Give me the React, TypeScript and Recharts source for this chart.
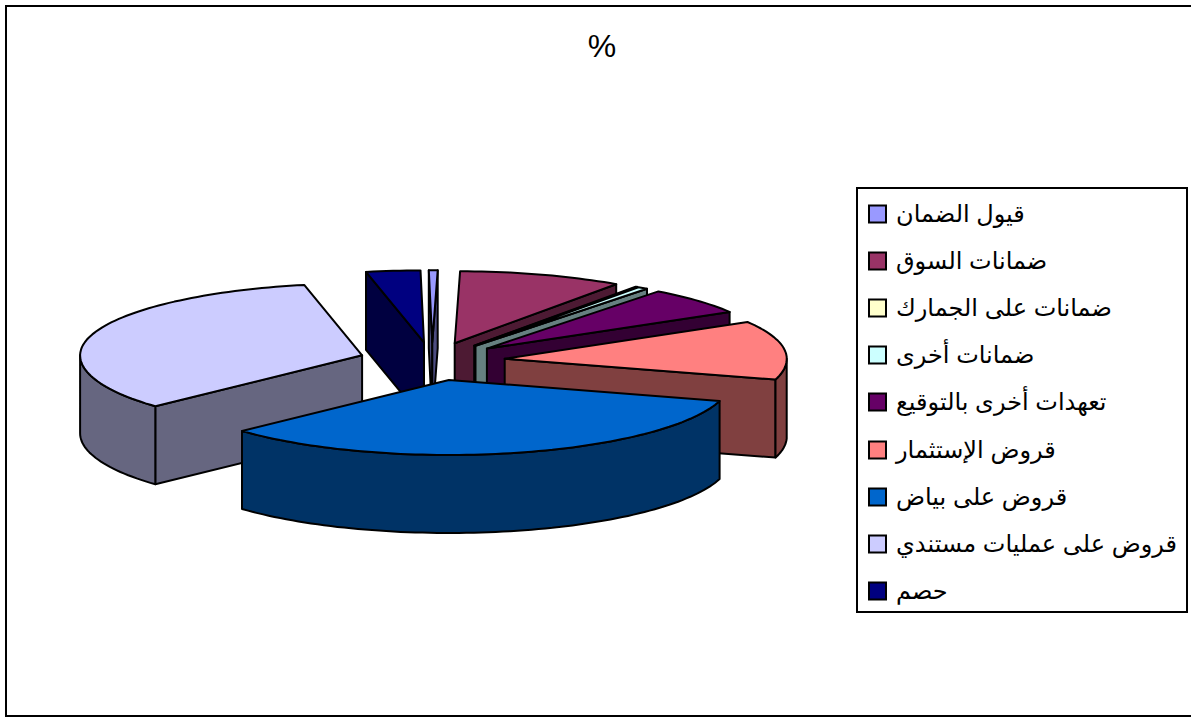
import React from 'react';
import { PieChart, Pie } from 'recharts';

// Slice names, in clockwise order from twelve o'clock.
const categories = [
  'قيول الضمان',
  'ضمانات السوق',
  'ضمانات على الجمارك',
  'ضمانات أخرى',
  'تعهدات أخرى بالتوقيع',
  'قروض الإستثمار',
  'قروض على بياض',
  'قروض على عمليات مستندي',
  'حصم',
];
const shares = [0.5, 9.4, 0.1, 0.6, 6.1, 13, 33.6, 33.6, 3.1];
const topColors = ['#9999FF', '#993366', '#FFFFCC', '#CCFFFF', '#660066', '#FF8080', '#0066CC', '#CCCCFF', '#000080'];
const sideColors = ['#4C4C80', '#4D1A33', '#808066', '#668080', '#330033', '#804040', '#003366', '#666680', '#000040'];
// Back-to-front painting sequence for the exploded wedges.
const paintOrder = [8, 0, 1, 2, 3, 4, 5, 7, 6];

const rows = categories.map((name, i) => ({ name, value: shares[i], fill: topColors[i], side: sideColors[i] }));

// The far half of the ellipse is a little flatter than the near half, as in a viewed-from-above pie.
const SQUASH_NEAR = 75 / 282;
const SQUASH_FAR = 72 / 282;
const DEPTH = 78;
const EXPLODE = 0.26;

const rad = (d: number) => (d * Math.PI) / 180;
const lift = (t: number) => {
  const c = Math.cos(rad(t));
  return c > 0 ? -c * SQUASH_FAR : -c * SQUASH_NEAR;
};

function Wedge(props: any) {
  const { cx, cy, outerRadius: r, startAngle, endAngle, fill, side } = props;
  // Recharts angles run counter-clockwise from three o'clock; t runs clockwise from the top.
  const t0 = 90 - startAngle;
  const t1 = 90 - endAngle;
  const mid = (t0 + t1) / 2;
  const ox = cx + EXPLODE * r * Math.sin(rad(mid));
  const oy = cy + EXPLODE * r * lift(mid);
  const at = (t: number, dz = 0): [number, number] => [
    ox + r * Math.sin(rad(t)),
    oy + r * lift(t) + dz,
  ];
  const arc = (a: number, b: number, dz = 0) => {
    const pts: [number, number][] = [];
    const n = Math.max(2, Math.ceil(Math.abs(b - a) / 1.5));
    for (let i = 0; i <= n; i++) pts.push(at(a + ((b - a) * i) / n, dz));
    return pts;
  };
  const path = (pts: [number, number][]) =>
    pts.map((p, i) => `${i ? 'L' : 'M'}${p[0].toFixed(1)},${p[1].toFixed(1)}`).join(' ') + ' Z';
  const apex: [number, number] = [ox, oy];
  const apexLow: [number, number] = [ox, oy + DEPTH];
  const common = { stroke: '#000', strokeWidth: 2, strokeLinejoin: 'round' as const };

  const faces: React.ReactNode[] = [];
  if (Math.sin(rad(t0)) < 0) {
    faces.push(<path key="s" d={path([apex, at(t0), at(t0, DEPTH), apexLow])} fill={side} {...common} />);
  }
  if (Math.sin(rad(t1)) > 0) {
    faces.push(<path key="e" d={path([apex, at(t1), at(t1, DEPTH), apexLow])} fill={side} {...common} />);
  }
  // Rim: only the stretch facing the viewer, i.e. between 90 and 270 degrees.
  const a = Math.max(t0, 90);
  const b = Math.min(t1, 270);
  if (b > a) {
    faces.push(<path key="r" d={path([...arc(a, b), ...arc(b, a, DEPTH)])} fill={side} {...common} />);
  }
  return (
    <g>
      {faces}
      <path d={path([apex, ...arc(t0, t1)])} fill={fill} {...common} />
    </g>
  );
}

const legendRowY = [214, 261, 308, 355, 402, 450, 497, 544, 591];

export default function App() {
  return (
    <div style={{ position: 'absolute', left: 0, top: 0, width: 1191, height: 718, overflow: 'hidden', background: '#fff' }}>
      <PieChart width={1191} height={718} margin={{ top: 0, right: 0, bottom: 0, left: 0 }}>
        <rect x={6} y={6} width={1300} height={710} fill="#fff" stroke="#000" strokeWidth={2} />
        <text x={602} y={57} textAnchor="middle" fontFamily="'Liberation Sans', Arial, sans-serif" fontSize={32} fill="#000">
          %
        </text>
        {paintOrder.map((idx) => (
          <Pie
            key={idx}
            data={rows}
            dataKey="value"
            nameKey="name"
            cx={432}
            cy={361}
            outerRadius={282}
            innerRadius={0}
            startAngle={90.7}
            endAngle={-269.3}
            isAnimationActive={false}
            legendType="none"
            shape={(p: any) => (p.name === categories[idx] ? <Wedge {...p} /> : <g />)}
          />
        ))}
        <g>
          <rect x={857} y={188} width={330} height={424} fill="#fff" stroke="#000" strokeWidth={2} />
          {categories.map((name, i) => (
            <g key={name}>
              <rect x={869} y={legendRowY[i] - 8.5} width={17} height={17} fill={topColors[i]} stroke="#000" strokeWidth={2} />
              <text
                x={896}
                y={legendRowY[i] + 8}
                fontFamily="'Liberation Sans', 'DejaVu Sans', sans-serif"
                fontSize={24}
                fill="#000"
              >
                {name}
              </text>
            </g>
          ))}
        </g>
      </PieChart>
    </div>
  );
}
